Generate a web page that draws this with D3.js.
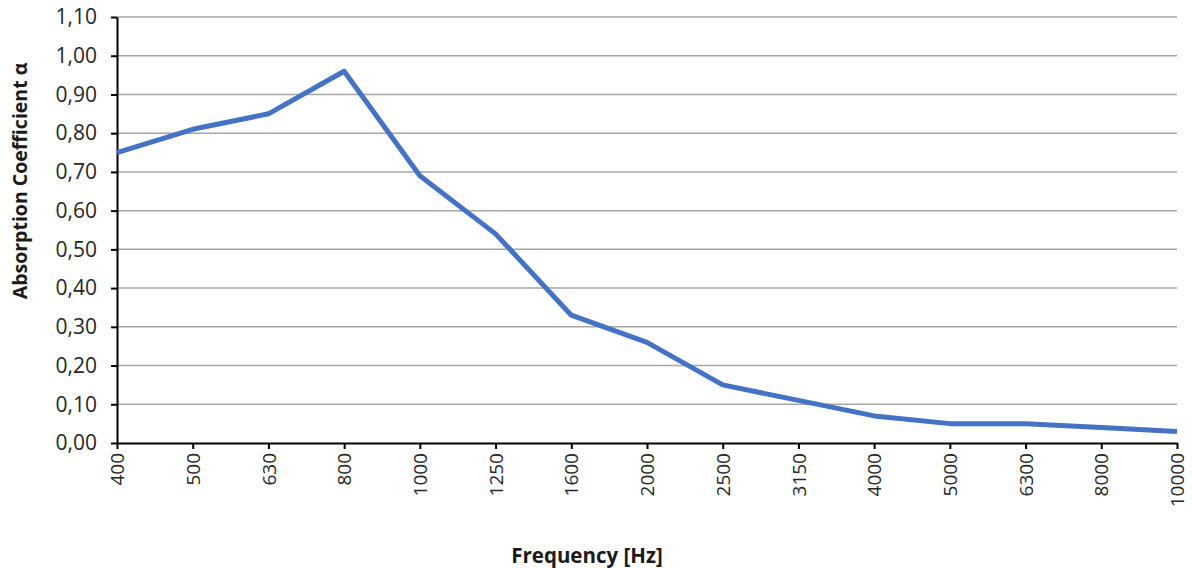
<!DOCTYPE html>
<html>
<head>
<meta charset="utf-8">
<script src="https://cdn.jsdelivr.net/npm/d3@7"></script>
<style>
  body { margin: 0; background: #fff; }
  svg { display: block; font-family: "Open Sans", sans-serif; }
</style>
</head>
<body>
<script>
// data
const frequencies = ['400', '500', '630', '800', '1000', '1250', '1600', '2000', '2500', '3150', '4000', '5000', '6300', '8000', '10000']
const absorption = [0.75, 0.81, 0.85, 0.96, 0.69, 0.54, 0.33, 0.26, 0.15, 0.11, 0.07, 0.05, 0.05, 0.04, 0.03]
const yTicks = [0, 0.1, 0.2, 0.3, 0.4, 0.5, 0.6, 0.7, 0.8, 0.9, 1.0, 1.1]

const width = 1192
const height = 568
const margin = { top: 17, right: 15, bottom: 125, left: 117 }

const svg = d3.select('body').append('svg')
  .attr('width', width)
  .attr('height', height)

const x = d3.scalePoint()
  .domain(frequencies)
  .range([margin.left, width - margin.right])

const y = d3.scaleLinear()
  .domain([0, 1.1])
  .range([height - margin.bottom, margin.top])

const fmt = d => d3.format('.2f')(d).replace('.', ',')

// gridlines
svg.append('g')
  .selectAll('line')
  .data(yTicks.slice(1))
  .enter()
  .append('line')
  .attr('x1', margin.left)
  .attr('x2', width - margin.right)
  .attr('y1', d => y(d))
  .attr('y2', d => y(d))
  .attr('stroke', '#a6a6a6')
  .attr('stroke-width', 1.5)

// y axis
const yAxis = svg.append('g')
  .attr('transform', `translate(${margin.left},0)`)
  .call(d3.axisLeft(y).tickValues(yTicks).tickFormat(fmt).tickSize(6).tickSizeOuter(0))
yAxis.select('.domain').attr('stroke', '#000').attr('stroke-width', 2)
yAxis.selectAll('.tick line').attr('stroke', '#000').attr('stroke-width', 2)
yAxis.selectAll('.tick text')
  .attr('x', -20)
  .attr('fill', '#262626')
  .style('font-size', '21px')
  .style('font-family', '"Open Sans", sans-serif')

// x axis
const xAxis = svg.append('g')
  .attr('transform', `translate(0,${y(0)})`)
  .call(d3.axisBottom(x).tickSize(6).tickSizeOuter(0))
xAxis.select('.domain').attr('stroke', '#000').attr('stroke-width', 2)
xAxis.selectAll('.tick line').attr('stroke', '#000').attr('stroke-width', 2)
xAxis.selectAll('.tick text')
  .attr('transform', 'rotate(-90)')
  .attr('x', -10)
  .attr('y', 0)
  .attr('dy', '0.35em')
  .attr('text-anchor', 'end')
  .attr('fill', '#262626')
  .style('font-size', '19px')
  .style('font-family', '"Open Sans", sans-serif')

// the series line
const line = d3.line()
  .x((d, i) => x(frequencies[i]))
  .y(d => y(d))

svg.append('path')
  .datum(absorption)
  .attr('d', line)
  .attr('fill', 'none')
  .attr('stroke', '#4472c4')
  .attr('stroke-width', 5)
  .attr('stroke-linejoin', 'round')

// axis titles
svg.append('text')
  .attr('transform', 'translate(27,181) rotate(-90)')
  .attr('text-anchor', 'middle')
  .attr('font-weight', 'bold')
  .attr('font-size', 19.5)
  .attr('fill', '#1a1a1a')
  .text('Absorption Coefficient α')

svg.append('text')
  .attr('x', 587)
  .attr('y', 563)
  .attr('text-anchor', 'middle')
  .attr('font-weight', 'bold')
  .attr('font-size', 20.5)
  .attr('fill', '#1a1a1a')
  .text('Frequency [Hz]')
</script>
</body>
</html>
